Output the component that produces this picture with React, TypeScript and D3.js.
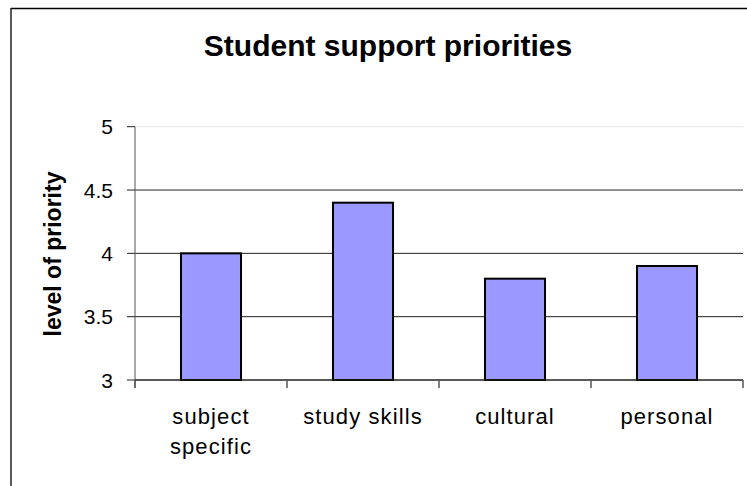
import React from "react";
import * as d3 from "d3";

const categories = ["subject specific", "study skills", "cultural", "personal"];
const categoryLines = [["subject", "specific"], ["study skills"], ["cultural"], ["personal"]];
const values = [4.0, 4.4, 3.8, 3.9];
const yTicks = [3, 3.5, 4, 4.5, 5];
const yTickLabels = ["3", "3.5", "4", "4.5", "5"];
const title = "Student support priorities";
const yTitle = "level of priority";

export default function App() {
  const W = 747, H = 486;
  const left = 135, right = 743, top = 126.7, bottom = 380;
  const x = d3.scaleBand<string>().domain(categories).range([left, right]).paddingInner(0.605).paddingOuter(0.3025);
  const y = d3.scaleLinear().domain([3, 5]).range([bottom, top]);
  const step = x.step();
  const ff = "Arial, 'Liberation Sans', sans-serif";
  return (
    <svg width={W} height={H} style={{ position: "absolute", left: 0, top: 0, background: "#fff" }}>
      <rect x={0} y={0} width={W} height={H} fill="#fff" />
      {/* outer frame */}
      <line x1={11} y1={8.5} x2={W} y2={8.5} stroke="#000" strokeWidth={1.5} />
      <line x1={11} y1={8} x2={11} y2={H} stroke="#222" strokeWidth={1.5} />
      <text x={388} y={56} textAnchor="middle" fontFamily={ff} fontWeight="bold" fontSize={30}>{title}</text>
      {/* gridlines */}
      {yTicks.map((t, i) => (
        <line key={"g" + i} x1={left} x2={right} y1={y(t)} y2={y(t)}
          stroke={t === 5 ? "#e6e6e6" : "#222"} strokeWidth={1} />
      ))}
      {/* y ticks and labels */}
      {yTicks.map((t, i) => (
        <g key={"yt" + i}>
          <line x1={left - 8} x2={left} y1={y(t)} y2={y(t)} stroke="#222" strokeWidth={1} />
          <text x={113} y={y(t)} dy="0.36em" textAnchor="end" fontFamily={ff} fontSize={21} fill="#000">{yTickLabels[i]}</text>
        </g>
      ))}
      <line x1={left} x2={left} y1={top} y2={bottom + 8} stroke="#555" strokeWidth={1} />
      {/* bars */}
      {categories.map((c, i) => (
        <rect key={"b" + i} x={x(c)!} y={y(values[i])} width={x.bandwidth()} height={bottom - y(values[i])}
          fill="#9999ff" stroke="#000" strokeWidth={2} />
      ))}
      {/* x axis */}
      <line x1={left} x2={right} y1={bottom} y2={bottom} stroke="#222" strokeWidth={1} />
      {d3.range(categories.length + 1).map((i) => (
        <line key={"xt" + i} x1={left + i * step} x2={left + i * step} y1={bottom} y2={bottom + 8} stroke="#555" strokeWidth={1.5} />
      ))}
      {categories.map((c, i) => (
        <text key={"xl" + i} textAnchor="middle" fontFamily={ff} fontSize={22} letterSpacing={1.1} fill="#000">
          {categoryLines[i].map((ln, j) => (
            <tspan key={j} x={x(c)! + x.bandwidth() / 2} y={424 + j * 30}>{ln}</tspan>
          ))}
        </text>
      ))}
      <text transform={`translate(61,254) rotate(-90)`} textAnchor="middle" fontFamily={ff} fontWeight="bold" fontSize={23}>{yTitle}</text>
    </svg>
  );
}
